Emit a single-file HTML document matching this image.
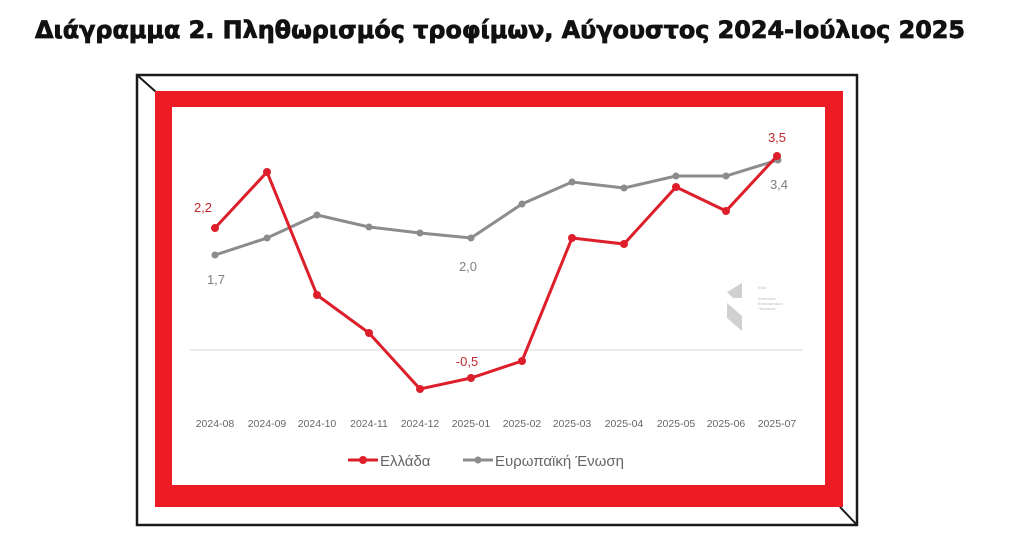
<!DOCTYPE html>
<html><head><meta charset="utf-8"><style>html,body{margin:0;padding:0;background:#fff;width:1024px;height:541px;overflow:hidden}</style></head>
<body>
<svg width="1024" height="541" viewBox="0 0 1024 541" xmlns="http://www.w3.org/2000/svg">
<text x="35" y="38" font-family="DejaVu Sans, Liberation Sans, sans-serif" font-weight="bold" font-size="24" textLength="930" lengthAdjust="spacingAndGlyphs" fill="#111" stroke="#111" stroke-width="0.8">Διάγραμμα 2. Πληθωρισμός τροφίμων, Αύγουστος 2024-Ιούλιος 2025</text>
<rect x="137" y="75" width="720" height="450" fill="#fff" stroke="#1a1a1a" stroke-width="2.5"/>
<line x1="137" y1="75" x2="156" y2="92" stroke="#1a1a1a" stroke-width="2"/>
<line x1="857" y1="525" x2="840" y2="507" stroke="#1a1a1a" stroke-width="2"/>
<rect x="155" y="91" width="688" height="416" fill="#ed1c24"/>
<rect x="172" y="107" width="653" height="378" fill="#fff"/>
<line x1="190" y1="350" x2="803" y2="350" stroke="#d9d9d9" stroke-width="1"/>
<g fill="#d0d0d0">
<polygon points="742,283 742,298 733,298 727,292"/>
<polygon points="727,303 742,316 742,331 727,318"/>
</g>
<g font-family="Liberation Sans, sans-serif" font-size="4" fill="#bbb">
<text x="758" y="289">ΕΝΑ</text><text x="758" y="300">Ινστιτούτο</text><text x="758" y="305">Εναλλακτικών</text><text x="758" y="310">Πολιτικών</text>
</g>
<polyline fill="none" stroke="#8c8c8c" stroke-width="3" points="215,255 267,238 317,215 369,227 420,233 471,238 522,204 572,182 624,188 676,176 726,176 778,160"/>
<g fill="#8c8c8c"><circle cx="215" cy="255" r="3.5"/><circle cx="267" cy="238" r="3.5"/><circle cx="317" cy="215" r="3.5"/><circle cx="369" cy="227" r="3.5"/><circle cx="420" cy="233" r="3.5"/><circle cx="471" cy="238" r="3.5"/><circle cx="522" cy="204" r="3.5"/><circle cx="572" cy="182" r="3.5"/><circle cx="624" cy="188" r="3.5"/><circle cx="676" cy="176" r="3.5"/><circle cx="726" cy="176" r="3.5"/><circle cx="778" cy="160" r="3.5"/></g>
<polyline fill="none" stroke="#dc1f2b" stroke-width="3" points="215,228 267,172 317,295 369,333 420,389 471,378 522,361 572,238 624,244 676,187 726,211 777,156"/>
<g fill="#dc1f2b"><circle cx="215" cy="228" r="4"/><circle cx="267" cy="172" r="4"/><circle cx="317" cy="295" r="4"/><circle cx="369" cy="333" r="4"/><circle cx="420" cy="389" r="4"/><circle cx="471" cy="378" r="4"/><circle cx="522" cy="361" r="4"/><circle cx="572" cy="238" r="4"/><circle cx="624" cy="244" r="4"/><circle cx="676" cy="187" r="4"/><circle cx="726" cy="211" r="4"/><circle cx="777" cy="156" r="4"/></g>
<g font-family="Liberation Sans, sans-serif" font-size="13" text-anchor="middle">
<text x="203" y="212" fill="#c0282f">2,2</text>
<text x="467" y="366" fill="#c0282f">-0,5</text>
<text x="777" y="142" fill="#c0282f">3,5</text>
<text x="216" y="284" fill="#808080">1,7</text>
<text x="468" y="271" fill="#808080">2,0</text>
<text x="779" y="189" fill="#808080">3,4</text>
</g>
<g font-family="Liberation Sans, sans-serif" font-size="10.5" fill="#666" text-anchor="middle">
<text x="215" y="427">2024-08</text><text x="267" y="427">2024-09</text><text x="317" y="427">2024-10</text><text x="369" y="427">2024-11</text><text x="420" y="427">2024-12</text><text x="471" y="427">2025-01</text><text x="522" y="427">2025-02</text><text x="572" y="427">2025-03</text><text x="624" y="427">2025-04</text><text x="676" y="427">2025-05</text><text x="726" y="427">2025-06</text><text x="777" y="427">2025-07</text>
</g>
<line x1="348" y1="460" x2="378" y2="460" stroke="#dc1f2b" stroke-width="3"/><circle cx="363" cy="460" r="4" fill="#dc1f2b"/>
<line x1="463" y1="460" x2="493" y2="460" stroke="#8c8c8c" stroke-width="3"/><circle cx="478" cy="460" r="3.5" fill="#8c8c8c"/>
<g font-family="Liberation Sans, sans-serif" font-size="15" fill="#666">
<text x="380" y="466">Ελλάδα</text><text x="495" y="466">Ευρωπαϊκή Ένωση</text>
</g>
</svg>
</body></html>
